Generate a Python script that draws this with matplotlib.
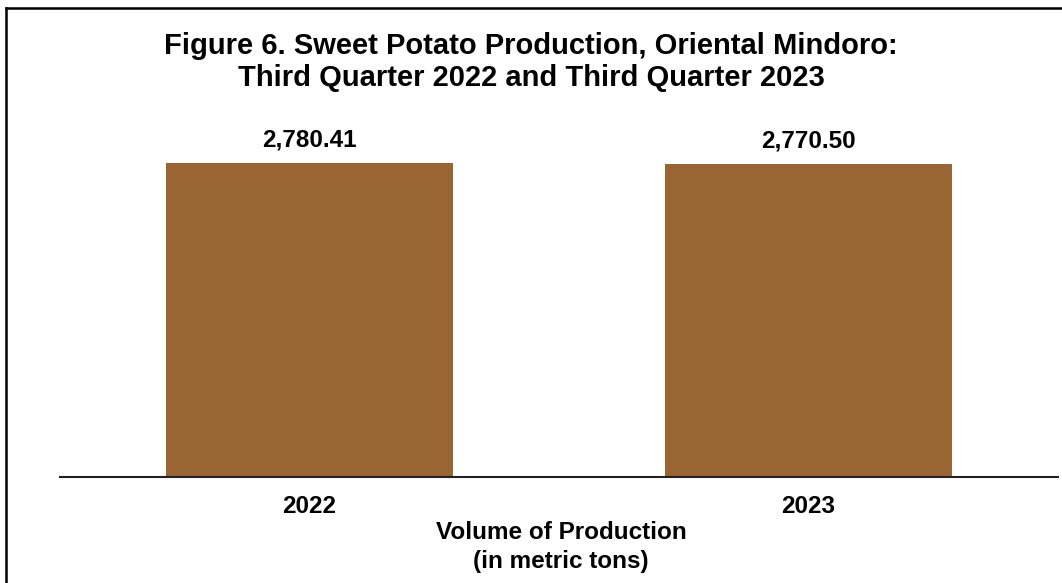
import matplotlib.pyplot as plt
from matplotlib.lines import Line2D

plt.rcParams['font.family'] = ['Liberation Sans', 'DejaVu Sans']

# data
years = ["2022", "2023"]
production = [2780.41, 2770.50]

TITLE = "Figure 6. Sweet Potato Production, Oriental Mindoro:\nThird Quarter 2022 and Third Quarter 2023"
X_LABEL = "Volume of Production\n(in metric tons)"
BAR_COLOR = "#996633"
FONT_SIZE = 17.5
TITLE_SIZE = 21

W, H = 1062, 583
fig = plt.figure(figsize=(W / 100, H / 100), dpi=100)

# axes placed in pixel terms: x 60..1058, baseline at y=477
left, right = 60 / W, 1058 / W
bottom = 1 - 477 / H
top = 1 - 138 / H
ax = fig.add_axes([left, bottom, right - left, top - bottom])

x = range(len(years))
bars = ax.bar(x, production, width=0.574, color=BAR_COLOR, zorder=2)
ax.set_xlim(-0.5, 1.5)
ax.set_ylim(0, 3000)

for rect, val in zip(bars, production):
    ax.annotate(f"{val:,.2f}", (rect.get_x() + rect.get_width() / 2, val),
                xytext=(0, 11.5), textcoords="offset points", ha="center", va="baseline",
                fontsize=FONT_SIZE, fontweight="bold")

ax.set_xticks(list(x))
ax.set_xticklabels(years, fontsize=FONT_SIZE, fontweight="bold")
ax.tick_params(axis="x", length=0, pad=13)
ax.set_yticks([])
for side in ["top", "left", "right"]:
    ax.spines[side].set_visible(False)
ax.spines["bottom"].set_linewidth(1.5)
ax.spines["bottom"].set_color("#222222")

fig.text(561 / W, 1 - 547 / H, X_LABEL, ha="center", va="center", fontsize=FONT_SIZE,
         fontweight="bold", linespacing=1.3)

fig.text(0.5, 1 - 62 / H, TITLE, ha="center", va="center", fontsize=TITLE_SIZE,
         fontweight="bold", linespacing=1.17)

# chart frame (only top and left edges visible in the crop)
fig.add_artist(Line2D([6 / W, 6 / W], [0, 1 - 8 / H], color="black", lw=1.8,
                      transform=fig.transFigure))
fig.add_artist(Line2D([6 / W, 1], [1 - 8 / H, 1 - 8 / H], color="black", lw=1.8,
                      transform=fig.transFigure))

fig.savefig("out.png", dpi=100)
